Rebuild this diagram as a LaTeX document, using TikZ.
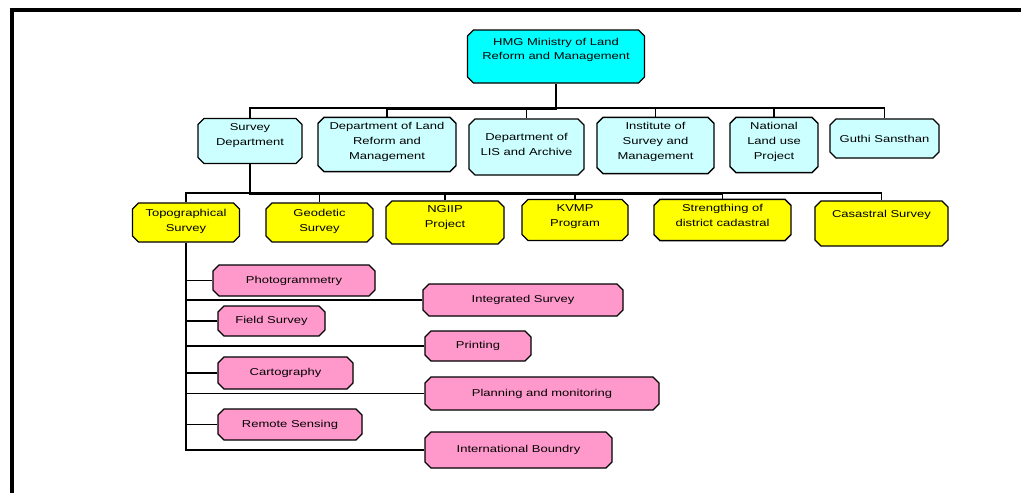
\documentclass[tikz,border=0pt]{standalone}
\usepackage{fontspec}
\setmainfont{Liberation Sans}[FakeStretch=1.3]
\usetikzlibrary{shapes.misc}

\definecolor{hmgcyan}{RGB}{0,255,255}
\definecolor{deptcyan}{RGB}{204,255,255}
\definecolor{unityellow}{RGB}{255,255,0}
\definecolor{sectpink}{RGB}{255,153,204}

\begin{document}
\begin{tikzpicture}[x=1pt,y=-1pt]

\tikzset{orgbox/.style = {chamfered rectangle, chamfered rectangle xsep=3pt,
           chamfered rectangle ysep=3pt, draw=black, line width=1.3pt,
           align=center, inner sep=2pt, font=\fontsize{10}{15}\selectfont},
         ministry/.style = {orgbox, fill=hmgcyan, font=\fontsize{10}{14}\selectfont},
         dept/.style = {orgbox, fill=deptcyan},
         unit/.style = {orgbox, fill=unityellow},
         sectbox/.style = {orgbox, fill=sectpink},
         lift/.style = {text depth=#1pt},
         link/.style = {draw=black, line width=1.2pt}}

\useasboundingbox (0,0) rectangle (1021,493);
\draw[line width=3.5pt] (12,493) -- (12,10) -- (1021,10);

\node[ministry, minimum width=177pt, minimum height=53pt, lift=15] (hmg) at (556,56.5) {HMG Ministry of Land\\Reform and Management};

\node[dept, minimum width=104pt, minimum height=44pt, lift=13] (survey) at (250,141) {Survey\\Department};
\node[dept, minimum width=138pt, minimum height=51pt, lift=7] (deptland) at (387,144.5) {Department of Land\\Reform and\\Management};
\node[dept, minimum width=115pt, minimum height=56pt, lift=5] (lis) at (526.5,147) {Department of\\LIS and Archive};
\node[dept, minimum width=117pt, minimum height=53pt, lift=9] (inst) at (655.5,145.5) {Institute of\\Survey and\\Management};
\node[dept, minimum width=88pt, minimum height=52pt, lift=8] (natl) at (774,145) {National\\Land use\\Project};
\node[dept, minimum width=109pt, minimum height=39pt] (guthi) at (884.5,138.5) {Guthi Sansthan};

\node[unit, minimum width=107pt, minimum height=39pt, lift=5] (topo) at (186,222.5) {Topographical\\Survey};
\node[unit, minimum width=107pt, minimum height=39pt, lift=5] (geod) at (319.5,222.5) {Geodetic\\Survey};
\node[unit, minimum width=118pt, minimum height=39pt, lift=11] (ngiip) at (445,222.5) {NGIIP\\Project};
\node[unit, minimum width=106pt, minimum height=34pt, lift=9] (kvmp) at (575,220) {KVMP\\Program};
\node[unit, minimum width=137pt, minimum height=34pt, lift=9] (streng) at (722.5,220) {Strengthing of\\district cadastral};
\node[unit, minimum width=133pt, minimum height=45pt, lift=19] (cad) at (881.5,223.5) {Casastral Survey};

\node[sectbox, minimum width=162pt, minimum height=31pt] (photo) at (294,280.5) {Photogrammetry};
\node[sectbox, minimum width=200pt, minimum height=32pt] (integ) at (523,300) {Integrated Survey};
\node[sectbox, minimum width=107pt, minimum height=30pt] (field) at (271.5,321) {Field Survey};
\node[sectbox, minimum width=106pt, minimum height=30pt] (print) at (478,346) {Printing};
\node[sectbox, minimum width=135pt, minimum height=32pt] (carto) at (285.5,373) {Cartography};
\node[sectbox, minimum width=234pt, minimum height=33pt] (plan) at (542,393.5) {Planning and monitoring};
\node[sectbox, minimum width=144pt, minimum height=31pt] (remote) at (290,424.5) {Remote Sensing};
\node[sectbox, minimum width=187pt, minimum height=36pt] (intl) at (518.5,450) {International Boundry};

\coordinate (busone) at (556,108);
\coordinate (busonelow) at (556,109.5);
\coordinate (bustwo) at (250,193);
\coordinate (bustwolow) at (250,194.5);

\draw[link] (hmg.south) -- (busonelow);
\draw[link] (busone) -| (survey.north);
\draw[link] (busonelow) -| (deptland.north);
\draw[link] (busone) -| (lis.north);
\draw[link] (busone) -| (inst.north);
\draw[link] (busone) -| (natl.north);
\draw[link] (busone) -| (guthi.north);

\draw[link] (survey.south) -- (bustwolow);
\draw[link] (bustwo) -| (topo.north);
\draw[link] (bustwolow) -| (geod.north);
\draw[link] (bustwolow) -| (ngiip.north);
\draw[link] (bustwolow) -| (kvmp.north);
\draw[link] (bustwolow) -| (streng.north);
\draw[link] (bustwo) -| (cad.north);

\draw[link] (topo.south) |- (intl.west);
\draw[link] (photo.west) -- (photo.west -| topo.south);
\draw[link] (integ.west) -- (integ.west -| topo.south);
\draw[link] (field.west) -- (field.west -| topo.south);
\draw[link] (print.west) -- (print.west -| topo.south);
\draw[link] (carto.west) -- (carto.west -| topo.south);
\draw[link] (plan.west) -- (plan.west -| topo.south);
\draw[link] (remote.west) -- (remote.west -| topo.south);

\end{tikzpicture}
\end{document}
